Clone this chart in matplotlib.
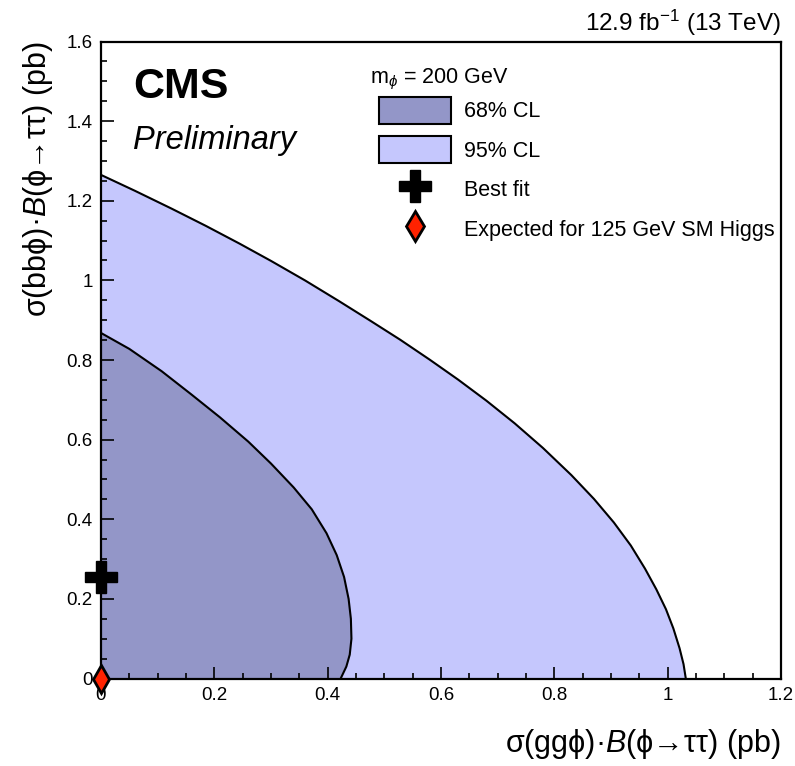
import matplotlib
matplotlib.use("Agg")
import matplotlib.pyplot as plt
from matplotlib.patches import Patch
from matplotlib.lines import Line2D

plt.rcParams['font.family'] = ['Liberation Sans', 'DejaVu Sans']
plt.rcParams['mathtext.fontset'] = 'custom'
plt.rcParams['mathtext.rm'] = 'Liberation Sans'
plt.rcParams['mathtext.it'] = 'Liberation Sans:italic'
plt.rcParams['mathtext.bf'] = 'Liberation Sans:bold'

# contour points (x = ggphi, y = bbphi, in pb)
cl95_x = [0, 0.06, 0.125, 0.185, 0.245, 0.30, 0.36, 0.42, 0.475, 0.528, 0.58,
          0.63, 0.68, 0.73, 0.78, 0.83, 0.87, 0.905, 0.935, 0.96, 0.98, 0.997,
          1.01, 1.021, 1.028, 1.032]
cl95_y = [1.265, 1.225, 1.180, 1.137, 1.092, 1.049, 1.000, 0.948, 0.899, 0.851,
          0.801, 0.751, 0.698, 0.641, 0.579, 0.511, 0.451, 0.392, 0.334, 0.276,
          0.224, 0.174, 0.126, 0.076, 0.036, 0.0]
cl68_x = [0, 0.05, 0.107, 0.16, 0.21, 0.26, 0.30, 0.34, 0.372, 0.398, 0.416,
          0.429, 0.437, 0.441, 0.442, 0.439, 0.433, 0.423]
cl68_y = [0.868, 0.828, 0.772, 0.713, 0.656, 0.595, 0.540, 0.480, 0.425, 0.365,
          0.31, 0.255, 0.20, 0.15, 0.10, 0.06, 0.03, 0.0]
best_fit = (0.0, 0.254)
sm_expected = (0.0, 0.0)

c68 = '#9396c8'
c95 = '#c5c7fd'
red = '#ff2200'

fig = plt.figure(figsize=(7.95, 7.66), dpi=100)
ax = fig.add_axes([0.127, 0.1142, 0.8554, 0.8316])

ax.fill([0] + cl95_x, [0] + cl95_y, color=c95, lw=0)
ax.plot(cl95_x, cl95_y, color='k', lw=1.5)
ax.fill([0] + cl68_x, [0] + cl68_y, color=c68, lw=0)
ax.plot(cl68_x, cl68_y, color='k', lw=1.5)

ax.plot(*best_fit, marker='P', ms=23, color='k', clip_on=False, zorder=5)
ax.plot(*sm_expected, marker='d', ms=14, mfc=red, mec='k', mew=2,
        clip_on=False, zorder=6)

ax.set_xlim(0, 1.2)
ax.set_ylim(0, 1.6)
ax.set_xticks([0, 0.2, 0.4, 0.6, 0.8, 1.0, 1.2])
ax.set_xticklabels(['0', '0.2', '0.4', '0.6', '0.8', '1', '1.2'])
ax.set_yticks([0, 0.2, 0.4, 0.6, 0.8, 1.0, 1.2, 1.4, 1.6])
ax.set_yticklabels(['0', '0.2', '0.4', '0.6', '0.8', '1', '1.2', '1.4', '1.6'])
ax.set_xticks([i * 0.05 for i in range(25)], minor=True)
ax.set_yticks([i * 0.05 for i in range(33)], minor=True)
ax.tick_params(which='both', direction='in', top=False, right=False,
               labelsize=13.5, width=1.2)
ax.tick_params(which='major', length=9, pad=6)
ax.tick_params(which='minor', length=4.5)
for s in ax.spines.values():
    s.set_linewidth(1.6)

ax.set_xlabel('σ(ggϕ)·$B$(ϕ→ττ) (pb)', fontsize=22, loc='right', labelpad=17)
ax.set_ylabel('σ(bbϕ)·$B$(ϕ→ττ) (pb)', fontsize=22, loc='top', labelpad=8)

ax.text(0.047, 0.96, 'CMS', transform=ax.transAxes, fontsize=31,
        fontweight='bold', va='top')
ax.text(0.047, 0.869, 'Preliminary', transform=ax.transAxes, fontsize=23.5,
        style='italic', va='top')
fig.text(0.9824, 0.9595, r'12.9 fb$^{-1}$ (13 TeV)', fontsize=17.5, ha='right',
         va='baseline')

# legend
ax.text(0.396, 0.935, r'm$_{\phi}$ = 200 GeV', transform=ax.transAxes,
        fontsize=15.5, va='baseline')
handles = [
    Patch(facecolor=c68, edgecolor='k', lw=1.5),
    Patch(facecolor=c95, edgecolor='k', lw=1.5),
    Line2D([], [], ls='none', marker='P', ms=23, color='k'),
    Line2D([], [], ls='none', marker='d', ms=15, mfc=red, mec='k', mew=2),
]
labels = ['68% CL', '95% CL', 'Best fit', 'Expected for 125 GeV SM Higgs']
ax.legend(handles, labels, fontsize=15.5, frameon=False, loc='upper left',
          bbox_to_anchor=(0.409, 0.913), borderpad=0, borderaxespad=0,
          handlelength=3.35, handleheight=1.55, handletextpad=0.6,
          labelspacing=0.58)

fig.savefig('out.png', dpi=100)
